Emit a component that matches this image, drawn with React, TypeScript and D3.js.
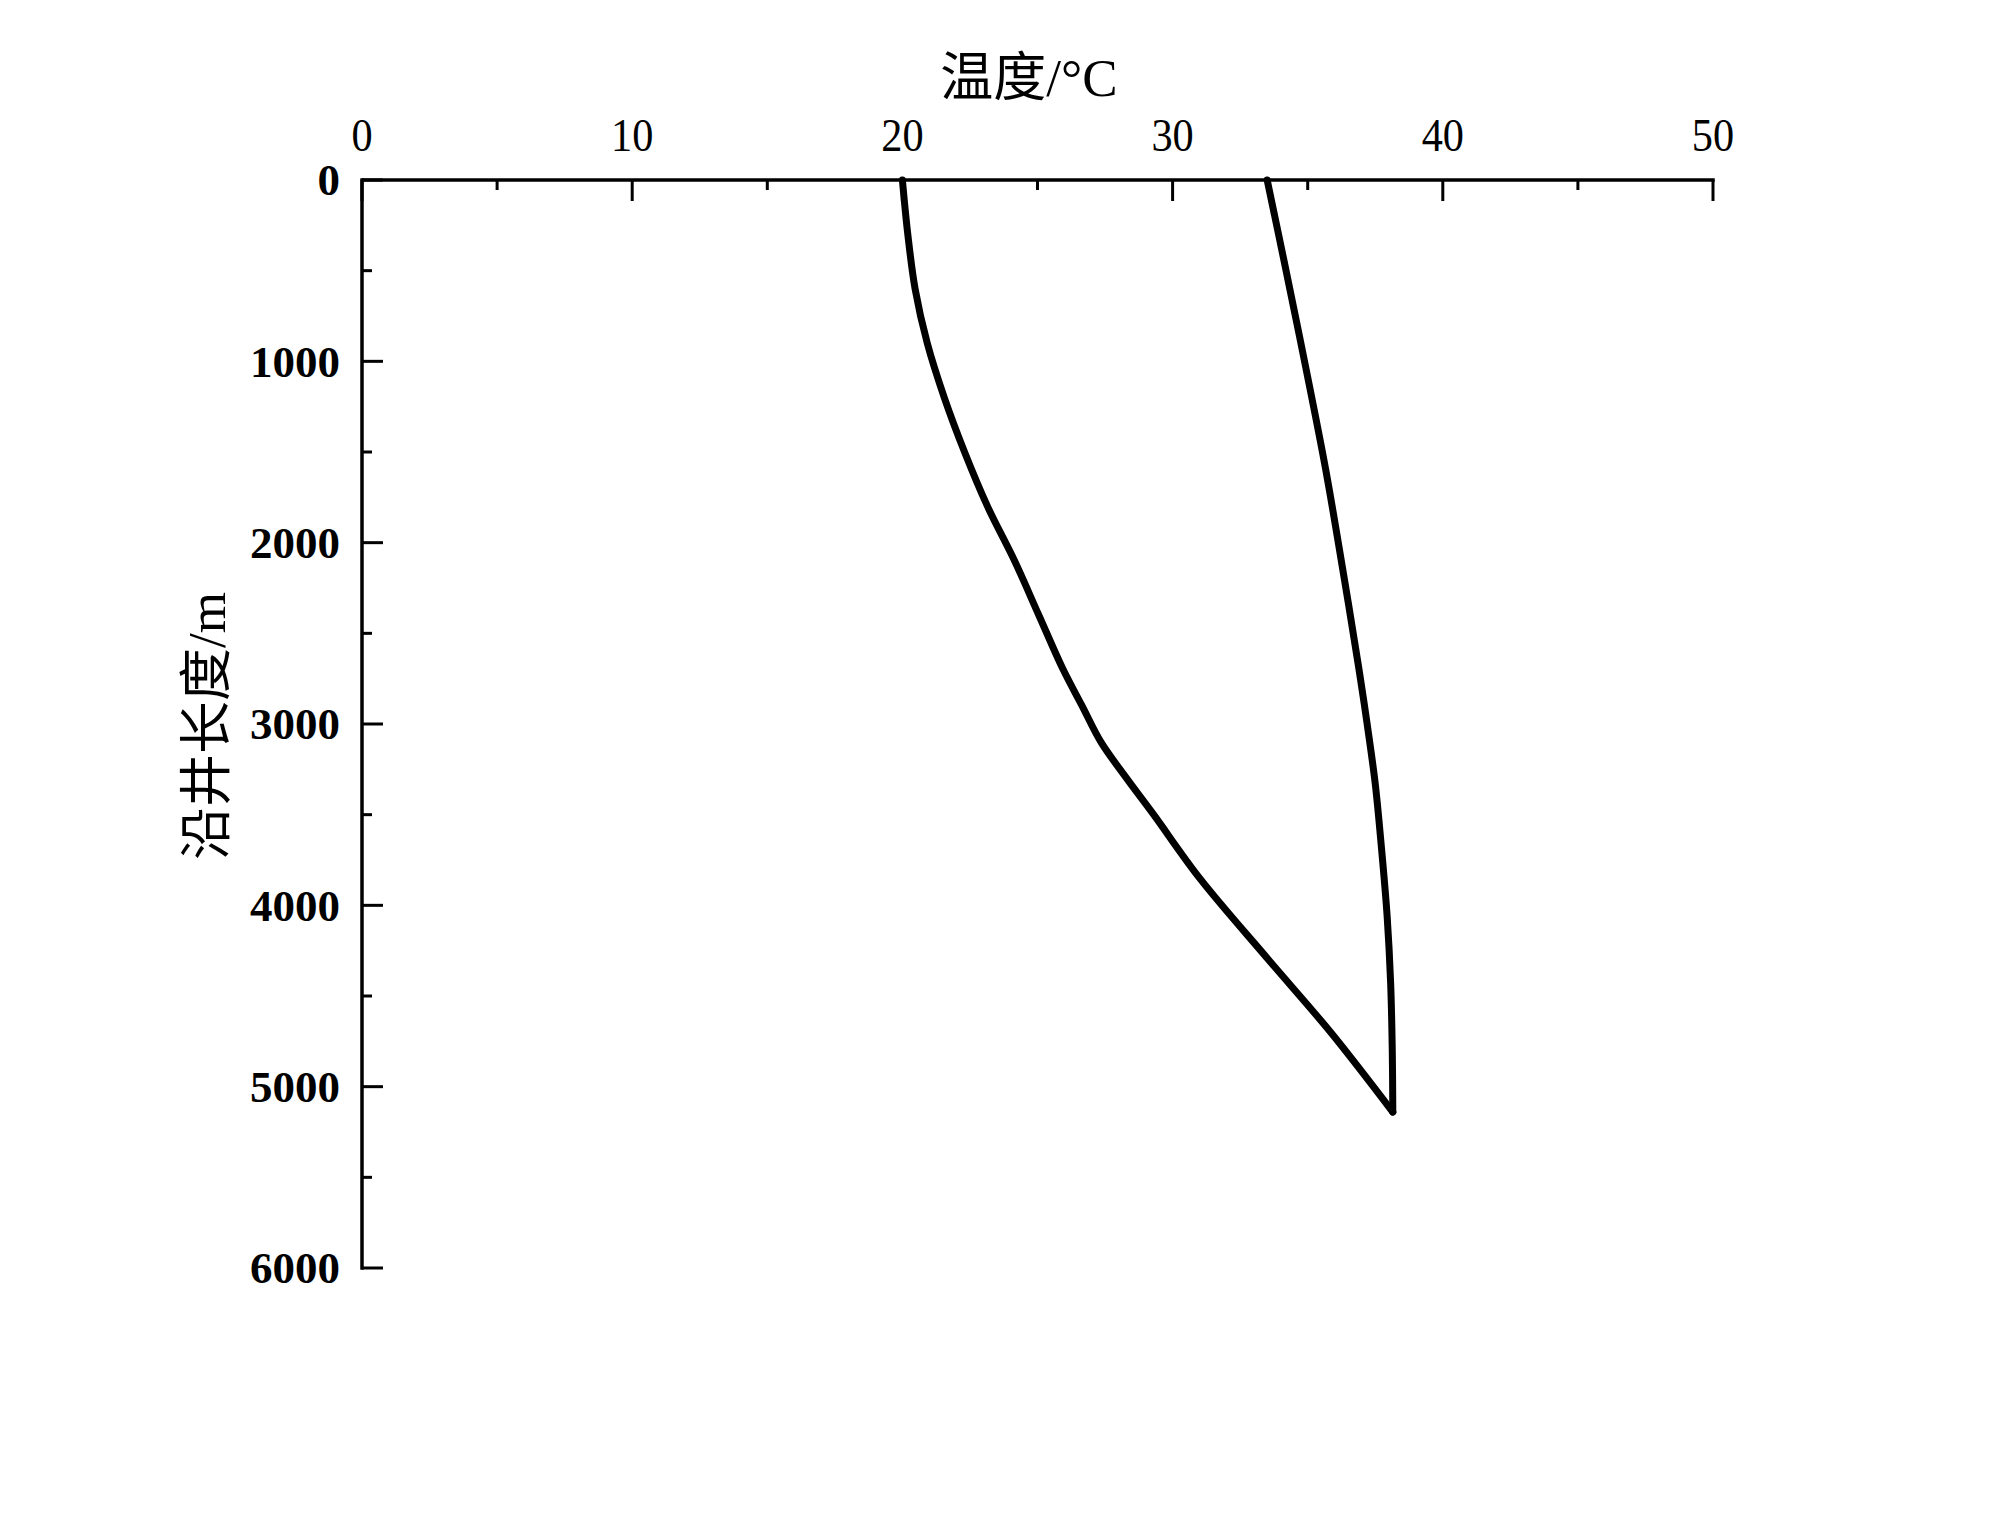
import React from "react";
import * as d3 from "d3";

// ---- data (depth along well in m, temperature in °C) ----
const tubingDepth = [0, 300, 600, 900, 1200, 1500, 1800, 2100, 2400, 2700, 2900, 3100, 3300, 3500, 3850, 4300, 4700, 5140];
const tubingTemp = [20.0, 20.2, 20.47, 20.92, 21.55, 22.3, 23.15, 24.15, 25.05, 25.95, 26.65, 27.35, 28.3, 29.3, 31.0, 33.55, 35.85, 38.15];

const annulusDepth = [0, 500, 1050, 1600, 2150, 2700, 3000, 3330, 3700, 4060, 4430, 4800, 5140];
const annulusTemp = [33.5, 34.2, 34.95, 35.67, 36.3, 36.9, 37.2, 37.5, 37.74, 37.94, 38.07, 38.13, 38.15];

const xMajorTicks = [0, 10, 20, 30, 40, 50];
const xMinorTicks = [5, 15, 25, 35, 45];
const yMajorTicks = [0, 1000, 2000, 3000, 4000, 5000, 6000];
const yMinorTicks = [500, 1500, 2500, 3500, 4500, 5500];

const xTitle = "温度/°C";
const yTitle = "沿井长度/m";

const W = 2000;
const H = 1528;
const LEFT = 362;
const RIGHT = 1713;
const TOP = 180;
const BOTTOM = 1268;

const serif = "'Liberation Serif', 'Times New Roman', 'Noto Sans CJK SC', serif";

export default function App() {
  const x = d3.scaleLinear().domain([0, 50]).range([LEFT, RIGHT]);
  const y = d3.scaleLinear().domain([0, 6000]).range([TOP, BOTTOM]);

  const line = d3
    .line<[number, number]>()
    .x((d) => x(d[1]))
    .y((d) => y(d[0]))
    .curve(d3.curveCatmullRom.alpha(0.5));

  const tubing = tubingDepth.map((d, i) => [d, tubingTemp[i]] as [number, number]);
  const annulus = annulusDepth.map((d, i) => [d, annulusTemp[i]] as [number, number]);

  const axisW = 3.5;
  const major = 21;
  const minor = 10;

  return (
    <svg
      width={W}
      height={H}
      style={{ position: "absolute", left: 0, top: 0, background: "#fff" }}
    >
      <rect x={0} y={0} width={W} height={H} fill="#fff" />

      {/* axes lines */}
      <line x1={LEFT} x2={RIGHT + axisW / 2} y1={TOP} y2={TOP} stroke="#000" strokeWidth={axisW} />
      <line x1={LEFT} x2={LEFT} y1={TOP - axisW / 2} y2={BOTTOM + axisW / 2} stroke="#000" strokeWidth={axisW} />

      {/* x ticks (inward, downward) */}
      {xMajorTicks.map((t) => (
        <line key={"xm" + t} x1={x(t)} x2={x(t)} y1={TOP} y2={TOP + major} stroke="#000" strokeWidth={3} />
      ))}
      {xMinorTicks.map((t) => (
        <line key={"xn" + t} x1={x(t)} x2={x(t)} y1={TOP} y2={TOP + minor} stroke="#000" strokeWidth={3} />
      ))}
      {xMajorTicks.map((t) => (
        <text
          key={"xl" + t}
          transform={`translate(${x(t)}, 151) scale(0.9, 1)`}
          textAnchor="middle"
          fontFamily={serif}
          fontSize={47}
          fill="#000"
        >
          {t}
        </text>
      ))}

      {/* y ticks (inward, rightward) */}
      {yMajorTicks.map((t) => (
        <line key={"ym" + t} x1={LEFT} x2={LEFT + major} y1={y(t)} y2={y(t)} stroke="#000" strokeWidth={3} />
      ))}
      {yMinorTicks.map((t) => (
        <line key={"yn" + t} x1={LEFT} x2={LEFT + minor} y1={y(t)} y2={y(t)} stroke="#000" strokeWidth={3} />
      ))}
      {yMajorTicks.map((t) => (
        <text
          key={"yl" + t}
          x={340}
          y={y(t)}
          dy="0.34em"
          textAnchor="end"
          fontFamily={serif}
          fontWeight="bold"
          fontSize={45}
          fill="#000"
        >
          {t}
        </text>
      ))}

      {/* axis titles */}
      <text x={1029} y={96} textAnchor="middle" fontFamily={serif} fontSize={53} fill="#000">
        {xTitle}
      </text>
      <text
        transform={`translate(225, 726) rotate(-90)`}
        textAnchor="middle"
        fontFamily={serif}
        fontSize={53}
        fill="#000"
      >
        {yTitle}
      </text>

      {/* curves */}
      <path d={line(tubing) || ""} fill="none" stroke="#000" strokeWidth={7} strokeLinejoin="round" strokeLinecap="round" />
      <path d={line(annulus) || ""} fill="none" stroke="#000" strokeWidth={7} strokeLinejoin="round" strokeLinecap="round" />
    </svg>
  );
}
